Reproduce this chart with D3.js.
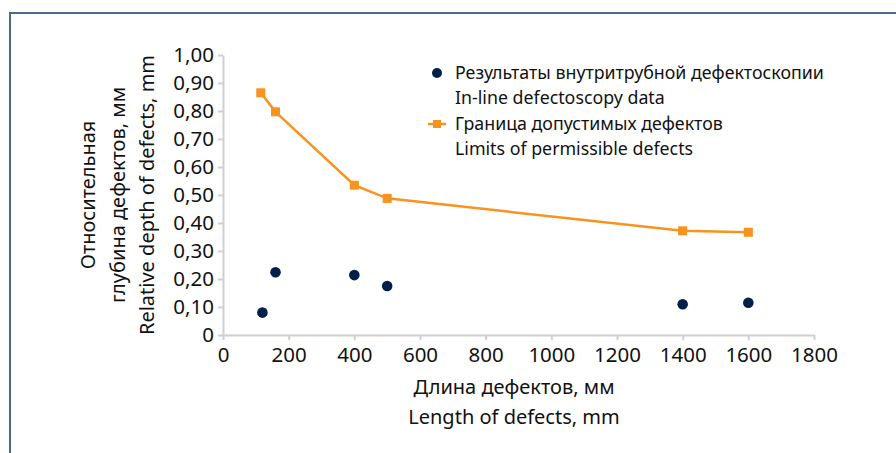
<!DOCTYPE html>
<html><head><meta charset="utf-8">
<script src="https://cdn.jsdelivr.net/npm/d3@7"></script>
<style>
html,body{margin:0;padding:0;background:#fff;}
svg{display:block;}
text{font-family:"Noto Sans",sans-serif;fill:#111;}
</style></head>
<body>
<script>
// Data
const limitLength = [115, 160, 400, 500, 1400, 1600];
const limitDepth  = [0.865, 0.797, 0.535, 0.488, 0.372, 0.367];
const defectLength = [120, 160, 400, 500, 1400, 1600];
const defectDepth  = [0.080, 0.224, 0.214, 0.175, 0.110, 0.115];
const xTicks = [0, 200, 400, 600, 800, 1000, 1200, 1400, 1600, 1800];
const yTicks = [0, 0.1, 0.2, 0.3, 0.4, 0.5, 0.6, 0.7, 0.8, 0.9, 1.0];
const legendLabels = [
  ["Результаты внутритрубной дефектоскопии", "In-line defectoscopy data"],
  ["Граница допустимых дефектов", "Limits of permissible defects"]
];
const yTitle = ["Относительная", "глубина дефектов, мм", "Relative depth of defects, mm"];
const xTitle = ["Длина дефектов, мм", "Length of defects, mm"];

const W = 896, H = 453;
const svg = d3.select("body").append("svg").attr("width", W).attr("height", H);

// frame
svg.append("path").attr("d", `M10,${H} L10,13 L${W},13`)
  .attr("fill", "none").attr("stroke", "#4d6a8a").attr("stroke-width", 2);

const x = d3.scaleLinear().domain([0, 1800]).range([223, 814]);
const y = d3.scaleLinear().domain([0, 1]).range([335, 55]);

const fmtY = d => d === 0 ? "0" : d3.format(".2f")(d).replace(".", ",");

const axisColor = "#d0d0d0";
const gx = svg.append("g").attr("transform", `translate(0,${y(0)})`)
  .call(d3.axisBottom(x).tickValues(xTicks).tickSize(5).tickSizeOuter(0).tickFormat(d3.format("d")));
const gy = svg.append("g").attr("transform", `translate(${x(0)},0)`)
  .call(d3.axisLeft(y).tickValues(yTicks).tickSize(5).tickSizeOuter(0).tickFormat(fmtY));
[gx, gy].forEach(g => {
  g.select(".domain").attr("stroke", axisColor).attr("stroke-width", 2);
  g.selectAll(".tick line").attr("stroke", axisColor).attr("stroke-width", 2);
  g.selectAll("text").style("font-family", "'Noto Sans', sans-serif").style("font-size", "20.5px").attr("fill", "#111");
});
gx.selectAll("text").attr("dy", "0.95em");
gy.selectAll("text").attr("dx", "-0.05em");

// limits line
const orange = "#f7931e";
const limitData = limitLength.map((v, i) => [v, limitDepth[i]]);
svg.append("path").datum(limitData)
  .attr("fill", "none").attr("stroke", orange).attr("stroke-width", 2.5)
  .attr("d", d3.line().x(d => x(d[0])).y(d => y(d[1])));
svg.selectAll("rect.m").data(limitData).join("rect").attr("class", "m")
  .attr("x", d => x(d[0]) - 4.5).attr("y", d => y(d[1]) - 4.5)
  .attr("width", 9).attr("height", 9).attr("fill", orange);

// defects dots
const navy = "#00204a";
svg.selectAll("circle.d").data(defectLength.map((v, i) => [v, defectDepth[i]])).join("circle")
  .attr("class", "d").attr("cx", d => x(d[0])).attr("cy", d => y(d[1])).attr("r", 5.3).attr("fill", navy);

// legend
const lg = svg.append("g");
lg.append("circle").attr("cx", 437).attr("cy", 73).attr("r", 5).attr("fill", navy);
lg.append("line").attr("x1", 428).attr("x2", 446).attr("y1", 124).attr("y2", 124).attr("stroke", orange).attr("stroke-width", 2.5);
lg.append("rect").attr("x", 433).attr("y", 120).attr("width", 8).attr("height", 8).attr("fill", orange);
const legLines = [legendLabels[0][0], legendLabels[0][1], legendLabels[1][0], legendLabels[1][1]];
const legY = [73, 98, 124, 149];
legLines.forEach((t, i) => {
  lg.append("text").attr("x", 455).attr("y", legY[i]).attr("dy", "0.35em")
    .style("font-size", "17.8px").text(t);
});

// y title
const yt = svg.append("text").attr("transform", "translate(0,195) rotate(-90)").attr("text-anchor", "middle").style("font-size", "20px");
yTitle.forEach((t, i) => yt.append("tspan").attr("x", 0).attr("y", 95 + i * 29.5).text(t));

// x title
xTitle.forEach((t, i) => svg.append("text").attr("x", 514).attr("y", 394 + i * 30)
  .attr("text-anchor", "middle").style("font-size", "20px").text(t));
</script>
</body></html>
